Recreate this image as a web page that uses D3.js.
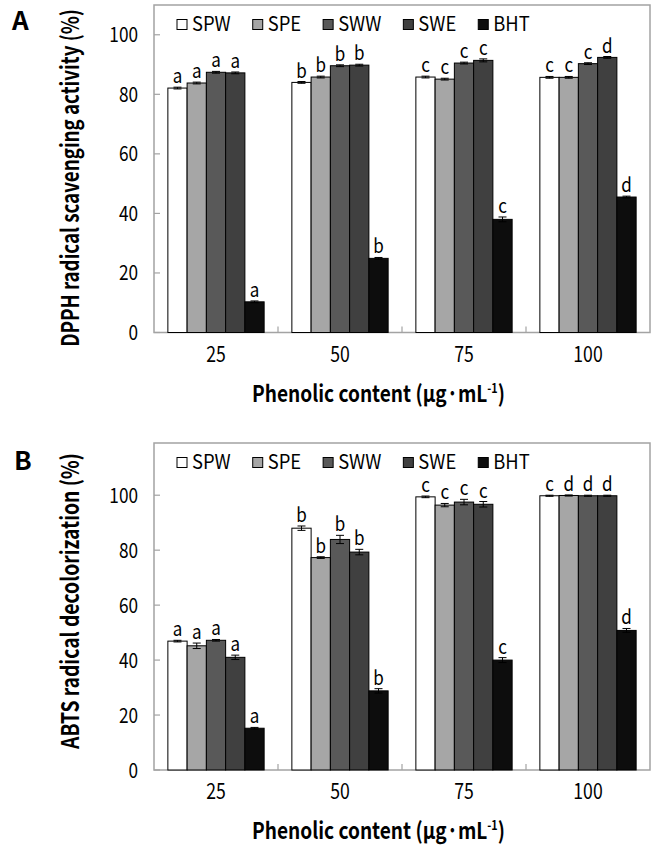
<!DOCTYPE html>
<html>
<head>
<meta charset="utf-8">
<script src="https://cdn.jsdelivr.net/npm/d3@7"></script>
<style>
  body { margin: 0; background: #fff; }
  text { font-family: "Noto Sans CJK KR", "Noto Sans", sans-serif; fill: #000; }
</style>
</head>
<body>
<svg id="chart"></svg>
<script>
// --- Data ---
const doses = ["25", "50", "75", "100"];
const extracts = ["SPW", "SPE", "SWW", "SWE", "BHT"];
const fills = ["#ffffff", "#a6a6a6", "#595959", "#404040", "#0d0d0d"];
const yTicks = [0, 20, 40, 60, 80, 100];

// A: DPPH radical scavenging activity (%)
const dpphSPW = [82.1, 84.0, 85.8, 85.7];
const dpphSPE = [83.8, 85.8, 85.1, 85.7];
const dpphSWW = [87.4, 89.6, 90.5, 90.3];
const dpphSWE = [87.2, 89.8, 91.4, 92.4];
const dpphBHT = [10.3, 24.9, 38.0, 45.5];
const dpphErr = [[0.3, 0.3, 0.3, 0.3], [0.3, 0.3, 0.3, 0.3], [0.3, 0.3, 0.3, 0.3], [0.3, 0.3, 0.5, 0.3], [0.3, 0.3, 0.8, 0.3]];
const dpphLetters = [["a", "b", "c", "c"], ["a", "b", "c", "c"], ["a", "b", "c", "c"], ["a", "b", "c", "d"], ["a", "b", "c", "d"]];

// B: ABTS radical decolorization (%)
const abtsSPW = [46.9, 88.0, 99.4, 99.8];
const abtsSPE = [45.2, 77.3, 96.4, 99.9];
const abtsSWW = [47.2, 83.9, 97.5, 99.8];
const abtsSWE = [41.0, 79.3, 96.7, 99.8];
const abtsBHT = [15.2, 28.8, 40.0, 50.8];
const abtsErr = [[0.3, 0.8, 0.3, 0.2], [1.0, 0.3, 0.6, 0.2], [0.3, 1.5, 1.0, 0.2], [0.8, 1.0, 1.0, 0.2], [0.3, 0.8, 0.9, 0.7]];
const abtsLetters = [["a", "b", "c", "c"], ["a", "b", "c", "d"], ["a", "b", "c", "d"], ["a", "b", "c", "d"], ["a", "b", "c", "d"]];

// --- Layout ---
const w = 653, h = 850;
const left = 154, right = 650;
const squeeze = 0.82; // the figure's font is narrow

const svg = d3.select("#chart").attr("width", w).attr("height", h);

// squeeze a text horizontally so it spans the wanted length
function fitTo(sel, base, len) {
    const k = len / sel.node().getComputedTextLength();
    sel.attr("transform", base + " scale(" + k + ",1)");
}

function drawPanel(p) {
    const g = svg.append("g");

    const x0 = d3.scaleBand().domain(doses).range([left, right]);
    const x1 = d3.scaleBand().domain(extracts).range([0, x0.bandwidth()]).paddingOuter(0.72);
    const y = d3.scaleLinear().domain([0, p.yMax]).range([p.bottom, p.top]);

    // plot frame
    g.append("rect")
        .attr("x", left).attr("y", p.top)
        .attr("width", right - left).attr("height", p.bottom - p.top)
        .attr("fill", "none").attr("stroke", "#a3a3a3").attr("stroke-width", 1.5);

    // y ticks (inside) and labels
    yTicks.forEach(function (t) {
        g.append("line")
            .attr("x1", left).attr("x2", left + 6)
            .attr("y1", y(t)).attr("y2", y(t))
            .attr("stroke", "#a3a3a3").attr("stroke-width", 1.2);
        g.append("text")
            .attr("transform", "translate(138," + (y(t) + 7.5) + ") scale(" + squeeze + ",1)")
            .attr("text-anchor", "end")
            .attr("font-size", "21px")
            .text(t);
    });

    // x ticks between categories
    doses.slice(1).forEach(function (d) {
        g.append("line")
            .attr("x1", x0(d)).attr("x2", x0(d))
            .attr("y1", p.bottom - 6).attr("y2", p.bottom)
            .attr("stroke", "#a3a3a3").attr("stroke-width", 1.2);
    });
    doses.forEach(function (d) {
        g.append("text")
            .attr("transform", "translate(" + (x0(d) + x0.bandwidth() / 2) + "," + (p.bottom + 29) + ") scale(" + squeeze + ",1)")
            .attr("text-anchor", "middle")
            .attr("font-size", "21.5px")
            .text(d);
    });

    // bars
    const rows = [];
    extracts.forEach(function (s, si) {
        doses.forEach(function (d, di) {
            rows.push({ s: s, si: si, d: d, v: p.series[si][di], e: p.err[si][di], l: p.letters[si][di] });
        });
    });

    g.selectAll("rect.bar")
        .data(rows)
        .enter()
        .append("rect")
        .attr("class", "bar")
        .attr("x", function (r) { return x0(r.d) + x1(r.s); })
        .attr("y", function (r) { return y(r.v); })
        .attr("width", x1.bandwidth())
        .attr("height", function (r) { return y(0) - y(r.v); })
        .attr("fill", function (r) { return fills[r.si]; })
        .attr("stroke", "#000")
        .attr("stroke-width", 1);

    // error bars and letters
    rows.forEach(function (r) {
        const cx = x0(r.d) + x1(r.s) + x1.bandwidth() / 2;
        g.append("line")
            .attr("x1", cx).attr("x2", cx)
            .attr("y1", y(r.v - r.e)).attr("y2", y(r.v + r.e))
            .attr("stroke", "#000").attr("stroke-width", 1);
        [r.v - r.e, r.v + r.e].forEach(function (v) {
            g.append("line")
                .attr("x1", cx - 4).attr("x2", cx + 4)
                .attr("y1", y(v)).attr("y2", y(v))
                .attr("stroke", "#000").attr("stroke-width", 1);
        });
        g.append("text")
            .attr("transform", "translate(" + cx + "," + (y(r.v + r.e) - 4) + ") scale(0.85,1)")
            .attr("text-anchor", "middle")
            .attr("font-size", "20px")
            .text(r.l);
    });

    // legend
    let lx = 177;
    extracts.forEach(function (s, si) {
        g.append("rect")
            .attr("x", lx).attr("y", p.top + 14.5)
            .attr("width", 10).attr("height", 10)
            .attr("fill", fills[si]).attr("stroke", "#000").attr("stroke-width", 1);
        const t = g.append("text")
            .attr("transform", "translate(" + (lx + 15) + "," + (p.top + 25.5) + ") scale(0.92,1)")
            .attr("font-size", "20px")
            .text(s);
        lx += 15 + t.node().getComputedTextLength() * 0.92 + 22;
    });

    // y title
    const yt = g.append("text")
        .attr("text-anchor", "middle")
        .attr("font-size", "24px")
        .attr("font-weight", "bold")
        .text(p.yTitle);
    fitTo(yt, "translate(79," + p.yTitleMid + ") rotate(-90)", p.yTitleLen);

    // x title
    const xt = g.append("text")
        .attr("text-anchor", "middle")
        .attr("font-size", "23px")
        .attr("font-weight", "bold");
    xt.append("tspan").text("Phenolic content (µg·mL");
    xt.append("tspan").attr("font-size", "13px").attr("dy", -9).text("-1");
    xt.append("tspan").attr("dy", 9).text(")");
    fitTo(xt, "translate(378.5," + (p.bottom + 69) + ")", 253);

    // panel letter
    g.append("text")
        .attr("x", p.letterX).attr("y", p.letterY)
        .attr("font-family", "Liberation Sans, Arial, sans-serif")
        .attr("font-size", "26px")
        .attr("font-weight", "bold")
        .text(p.label);
}

drawPanel({
    label: "A", letterX: 12, letterY: 30,
    top: 5, bottom: 332.5, yMax: 110,
    series: [dpphSPW, dpphSPE, dpphSWW, dpphSWE, dpphBHT],
    err: dpphErr, letters: dpphLetters,
    yTitle: "DPPH radical scavenging activity (%)", yTitleMid: 178, yTitleLen: 338
});

drawPanel({
    label: "B", letterX: 14, letterY: 470,
    top: 443, bottom: 770, yMax: 119,
    series: [abtsSPW, abtsSPE, abtsSWW, abtsSWE, abtsBHT],
    err: abtsErr, letters: abtsLetters,
    yTitle: "ABTS radical decolorization (%)", yTitleMid: 601, yTitleLen: 296
});
</script>
</body>
</html>
